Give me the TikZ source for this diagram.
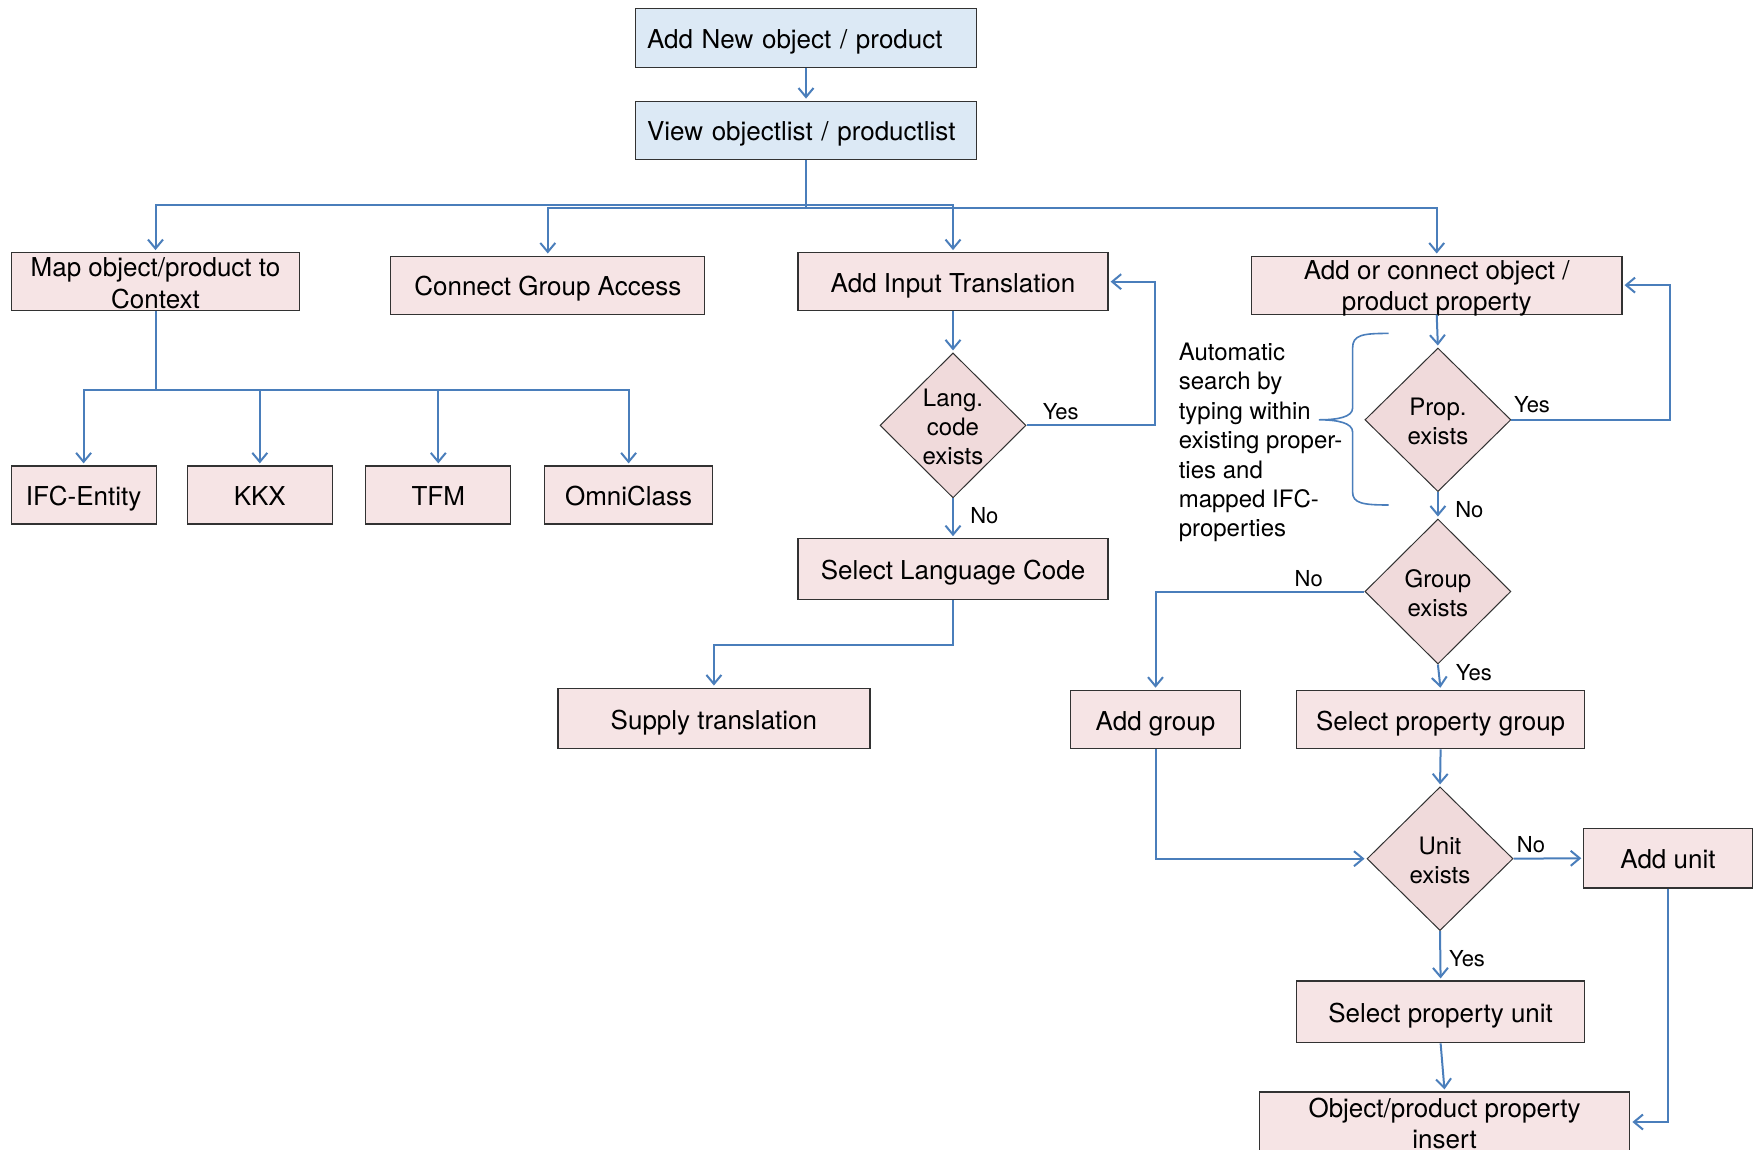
\documentclass[tikz,border=0pt]{standalone}
\usepackage{fontspec}
\setmainfont{TeX Gyre Heros}
\usetikzlibrary{arrows.meta,shapes.geometric}

\definecolor{flowblue}{RGB}{74,126,187}
\definecolor{boxpink}{RGB}{246,228,229}
\definecolor{diapink}{RGB}{240,218,219}
\definecolor{boxblue}{RGB}{220,233,245}
\definecolor{edgegray}{RGB}{50,50,50}

% centred stacked lines, set a little below the middle of their shape;
% the reported extents are trimmed so that the box keeps its own height
\newcommand{\stackrows}[2][4.5pt]{\raisebox{-#1}[\dimexpr\height-4pt\relax][\dimexpr\depth-4pt\relax]{\begin{tabular}{@{}c@{}}#2\end{tabular}}}

\begin{document}
\begin{tikzpicture}[x=1pt,y=-1pt,
  every node/.style={inner sep=0pt},
  procbox/.style={draw=edgegray, line width=1.2pt, fill=boxpink, minimum height=58pt,
    align=center, font=\fontsize{26}{31.5}\selectfont},
  oneline/.style={text height=21.5pt, text depth=0pt},
  startbox/.style={draw=edgegray, line width=1.2pt, fill=boxblue, text width=318pt,
    inner xsep=11.5pt, minimum height=59pt, align=left, font=\fontsize{26}{30}\selectfont,
    oneline},
  decision/.style={diamond, draw=edgegray, line width=1pt, fill=diapink,
    minimum width=146pt, minimum height=145pt, align=center, font=\fontsize{24}{29}\selectfont},
  flow/.style={draw=flowblue, line width=2pt},
  conn/.style={flow, -{Straight Barb[length=9pt,width=15pt,line width=2pt]}, shorten >=2pt},
  answer/.style={font=\fontsize{22}{26}\selectfont},
  note/.style={align=left, font=\fontsize{24}{29.4}\selectfont},
  brace/.style={draw=flowblue, line width=1.6pt},
]
\useasboundingbox (0,0) rectangle (1760,1149);
\clip (0,0) rectangle (1760,1149);
\fill[white] (0,0) rectangle (1760,1149);

% entry
\node[startbox] (addnew) at (806,38.2) {Add New object / product};
\node[startbox, minimum height=58pt] (view) at (806,130.2) {View objectlist / productlist};

% first level
\node[procbox, minimum width=288.5pt] (map) at (155.5,281.7) {\stackrows{Map object/product to\\Context}};
\node[procbox, oneline, minimum width=314pt] (cga) at (547.8,285.1) {Connect Group Access};
\node[procbox, oneline, minimum width=310pt] (addin) at (953,281.7) {Add Input Translation};
\node[procbox, minimum width=370.4pt] (addc) at (1436.7,285.1) {\stackrows[3.5pt]{Add or connect object /\\product property}};

% classification systems
\node[procbox, oneline, minimum width=145pt] (ifc) at (83.6,495) {IFC-Entity};
\node[procbox, oneline, minimum width=145pt] (kkx) at (259.8,495) {KKX};
\node[procbox, oneline, minimum width=145pt] (tfm) at (438.3,495) {TFM};
\node[procbox, oneline, minimum width=168.4pt] (omni) at (628.6,495) {OmniClass};

% translation branch
\node[decision] (lang) at (953,425.4) {\stackrows{Lang.\\code\\exists}};
\node[procbox, oneline, minimum width=310pt, minimum height=60.6pt] (sellang) at (953,569.1) {Select Language Code};
\node[procbox, oneline, minimum width=312pt, minimum height=60.6pt] (supply) at (713.9,718.4) {Supply translation};

% property branch
\node[decision, minimum height=143.6pt] (prop) at (1437.9,419.8) {\stackrows{Prop.\\exists}};
\node[decision] (group) at (1437.9,591.5) {\stackrows{Group\\exists}};
\node[procbox, oneline, minimum width=169.5pt, minimum height=58.4pt] (addg) at (1155.5,719.5) {Add group};
\node[procbox, oneline, minimum width=288.5pt, minimum height=58.4pt] (selpg) at (1440.6,719.5) {Select property group};
\node[decision, minimum height=143.7pt] (unit) at (1440,858.7) {\stackrows{Unit\\exists}};
\node[procbox, oneline, minimum width=168.3pt, minimum height=59.5pt] (addu) at (1668,858.2) {Add unit};
\node[procbox, oneline, minimum width=288.5pt, minimum height=61.8pt] (spu) at (1440.6,1011.9) {Select property unit};
\node[procbox, minimum width=370.4pt, minimum height=60pt] (ins) at (1444.6,1122) {\stackrows{Object/product property\\insert}};

% side note with brace
\node[note, anchor=west] (autonote) at (1178.6,442.6) {Automatic\\search by\\typing within\\existing proper-\\ties and\\mapped IFC-\\properties};
\draw[brace] (1388.5,333.4) .. controls (1362,333.4) and (1352.6,335) .. (1352.6,348)
  -- (1352.6,408) .. controls (1352.6,417) and (1338,419.8) .. (1318.9,419.8)
  .. controls (1338,419.8) and (1352.6,423) .. (1352.6,432)
  -- (1352.6,492) .. controls (1352.6,503) and (1362,505) .. (1388.5,505);

% main distribution
\coordinate (busA) at (806,205.4);
\coordinate (busB) at (806,207.7);
\draw[conn] (addnew.south) -- (view.north);
\draw[flow] (view.south) -- (busB);
\draw[conn] (busA) -| (map.north);
\draw[conn] (busA) -| (addin.north);
\draw[conn] (busB) -| (cga.north);
\draw[conn] (busB) -| (addc.north);

% mapping targets
\coordinate (mapbus) at (155.5,389.5);
\draw[flow] (map.south) -- (mapbus);
\foreach \target in {ifc,kkx,tfm,omni}
  \draw[conn] (mapbus) -| (\target.north);

% translation flow
\coordinate (langret) at (1155,425.4);
\coordinate (slbend) at (953,645.4);
\draw[conn] (addin.south) -- (lang.north);
\draw[conn] (lang.south) -- (sellang.north);
\draw[conn] (lang.east) -- (langret) |- (addin.east);
\draw[conn] (sellang.south) -- (slbend) -| (supply.north);
\node[answer] (yesA) at (1060.7,411.5) {Yes};
\node[answer] (noA) at (984.4,516) {No};

% property flow
\coordinate (propret) at (1670,419.8);
\draw[conn] (addc.south) -- (prop.north);
\draw[conn] (prop.east) -- (propret) |- (addc.east);
\draw[conn] (prop.south) -- (group.north);
\draw[conn] (group.west) -| (addg.north);
\draw[conn] (group.south) -- (selpg.north);
\draw[conn] (selpg.south) -- (unit.north);
\draw[conn] (addg.south) |- (unit.west);
\draw[conn] (unit.east) -- (addu.west);
\draw[conn] (unit.south) -- (spu.north);
\draw[conn] (spu.south) -- (ins.north);
\draw[conn] (addu.south) |- (ins.east);
\node[answer] (yesB) at (1532,405) {Yes};
\node[answer] (noB) at (1469.3,509.5) {No};
\node[answer] (noC) at (1308.7,579) {No};
\node[answer] (yesC) at (1473.8,672.2) {Yes};
\node[answer] (noD) at (1531,845) {No};
\node[answer] (yesD) at (1467,958.5) {Yes};
\end{tikzpicture}
\end{document}
